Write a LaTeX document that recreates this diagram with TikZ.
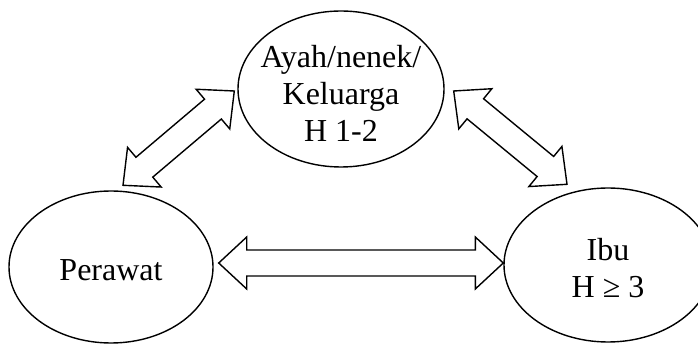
\documentclass[tikz,border=0pt]{standalone}
\usepackage{fontspec}
\setmainfont{Liberation Serif}
\usetikzlibrary{shapes.geometric,calc}

\tikzset{
    bubble/.style={draw, ellipse, line width=1.4pt, inner sep=0pt},
    txt/.style={align=center, font=\fontsize{32}{37}\selectfont},
    blockline/.style={draw, line width=1.4pt, line join=miter},
}
%% hollow double arrow between two points
\newcommand{\blockarrow}[2]{%
    \draw[blockline] (#1)
        -- ($(#1)!28pt!(#2)!26pt!90:(#2)$)
        -- ($(#1)!28pt!(#2)!13pt!90:(#2)$)
        -- ($(#2)!28pt!(#1)!13pt!-90:(#1)$)
        -- ($(#2)!28pt!(#1)!26pt!-90:(#1)$)
        -- (#2)
        -- ($(#2)!28pt!(#1)!26pt!90:(#1)$)
        -- ($(#2)!28pt!(#1)!13pt!90:(#1)$)
        -- ($(#1)!28pt!(#2)!13pt!-90:(#2)$)
        -- ($(#1)!28pt!(#2)!26pt!-90:(#2)$)
        -- cycle;}

\begin{document}
\begin{tikzpicture}[x=1pt,y=-1pt]
        \useasboundingbox (0,0) rectangle (698,344);
        %% Ellipses
        \node[bubble, minimum width=206pt, minimum height=156pt,
            label={[txt, yshift=-4pt]center:Ayah/nenek/\\Keluarga\\H 1-2}] (keluarga) at (341,89) {};
        \node[bubble, minimum width=204pt, minimum height=152pt,
            label={[txt, yshift=-3pt]center:Perawat}] (perawat) at (111,267) {};
        \node[bubble, minimum width=208pt, minimum height=154pt,
            label={[txt, yshift=-3pt]center:Ibu\\H ≥ 3}] (ibu) at (608,265) {};
        %% Arrow ends
        \coordinate (kl) at ([shift={(-3,2)}]keluarga.west);
        \coordinate (kr) at ([shift={(9,2)}]keluarga.east);
        \coordinate (pk) at ([shift={(12,-5)}]perawat.north);
        \coordinate (pi) at ([shift={(5,-4)}]perawat.east);
        \coordinate (ik) at ([shift={(-41,-3)}]ibu.north);
        \coordinate (ip) at ([shift={(0,-2)}]ibu.west);
        %% Arrows
        \blockarrow{pk}{kl}
        \blockarrow{kr}{ik}
        \blockarrow{pi}{ip}
\end{tikzpicture}
\end{document}
